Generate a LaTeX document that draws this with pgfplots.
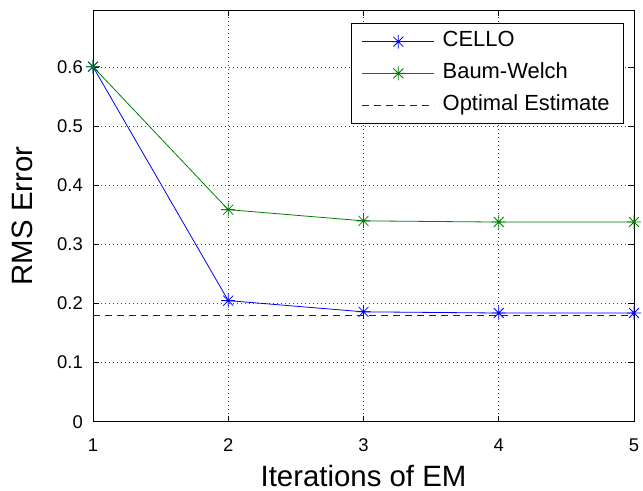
\documentclass[border=0pt]{standalone}
\usepackage{fontspec}
\setmainfont{Liberation Sans}
\usepackage{pgfplots}
\pgfplotsset{compat=1.18}
\definecolor{mlblue}{rgb}{0,0,1}
\definecolor{mlgreen}{rgb}{0,0.5,0}
% MATLAB-style asterisk: plus and cross on top of each other
\pgfdeclareplotmark{mlast}{%
  \pgfpathmoveto{\pgfqpoint{0pt}{\pgfplotmarksize}}%
  \pgfpathlineto{\pgfqpoint{0pt}{-\pgfplotmarksize}}%
  \pgfpathmoveto{\pgfqpoint{\pgfplotmarksize}{0pt}}%
  \pgfpathlineto{\pgfqpoint{-\pgfplotmarksize}{0pt}}%
  \pgfpathmoveto{\pgfqpoint{0.7071\pgfplotmarksize}{0.7071\pgfplotmarksize}}%
  \pgfpathlineto{\pgfqpoint{-0.7071\pgfplotmarksize}{-0.7071\pgfplotmarksize}}%
  \pgfpathmoveto{\pgfqpoint{-0.7071\pgfplotmarksize}{0.7071\pgfplotmarksize}}%
  \pgfpathlineto{\pgfqpoint{0.7071\pgfplotmarksize}{-0.7071\pgfplotmarksize}}%
  \pgfusepathqstroke}
\begin{document}
\begin{tikzpicture}
\begin{axis}[
    at={(0,0)}, anchor=south west,
    scale only axis,
    width=541bp, height=411.7bp,
    xmin=1, xmax=5,
    ymin=0, ymax=0.697,
    xtick={1,2,3,4,5},
    ytick={0,0.1,0.2,0.3,0.4,0.5,0.6},
    /pgf/number format/assume math mode=true,
    /pgf/number format/fixed,
    tick label style={font=\fontsize{18.5}{21}\selectfont, inner sep=0pt},
    yticklabel style={xshift=-10bp},
    xticklabel style={yshift=-16.6bp},
    xlabel={Iterations of EM},
    ylabel={RMS Error},
    label style={font=\fontsize{29.5}{33}\selectfont},
    xlabel style={at={(axis description cs:0.5,-0.131)}, anchor=center},
    ylabel style={at={(axis description cs:-0.1312,0.5)}, anchor=center},
    grid=major,
    major grid style={black!75, line width=0.8bp, dash pattern=on 0.8bp off 3.2bp},
    tick align=inside,
    major tick length=6bp,
    axis line style={line width=0.9bp},
    every tick/.style={black, line width=0.8bp},
    legend image code/.code={%
        \draw[mark repeat=2,mark phase=2] plot coordinates {(0bp,0bp) (36bp,0bp) (72bp,0bp)};},
    legend style={
        at={(0.9815,0.9684)}, anchor=north east,
        font=\fontsize{22}{24}\selectfont,
        draw=black, line width=0.8bp,
        inner xsep=11bp, inner ysep=5.5bp,
        row sep=6.2bp,
        nodes={inner sep=3bp, text height=15bp, text depth=4.5bp},
        cells={anchor=west},
        /tikz/every odd column/.append style={column sep=5bp},
    },
    legend cell align=left,
]
\addplot[mlblue, line width=0.8bp, mark=mlast, mark size=7bp, mark options={solid, line width=0.8bp}]
coordinates {(1,0.601) (2,0.205) (3,0.186) (4,0.184) (5,0.184)};
\addlegendentry{CELLO}
\addplot[mlgreen, line width=0.8bp, mark=mlast, mark size=7bp, mark options={solid, line width=0.8bp}]
coordinates {(1,0.601) (2,0.359) (3,0.340) (4,0.338) (5,0.338)};
\addlegendentry{Baum-Welch}
\addplot[black!85, line width=0.8bp, dash pattern=on 7bp off 5bp]
coordinates {(1,0.1805) (5,0.1805)};
\addlegendentry{Optimal Estimate}
\end{axis}
\pgfresetboundingbox
\useasboundingbox (-93bp,-69.3bp) rectangle (550bp,421.7bp);
\end{tikzpicture}
\end{document}
